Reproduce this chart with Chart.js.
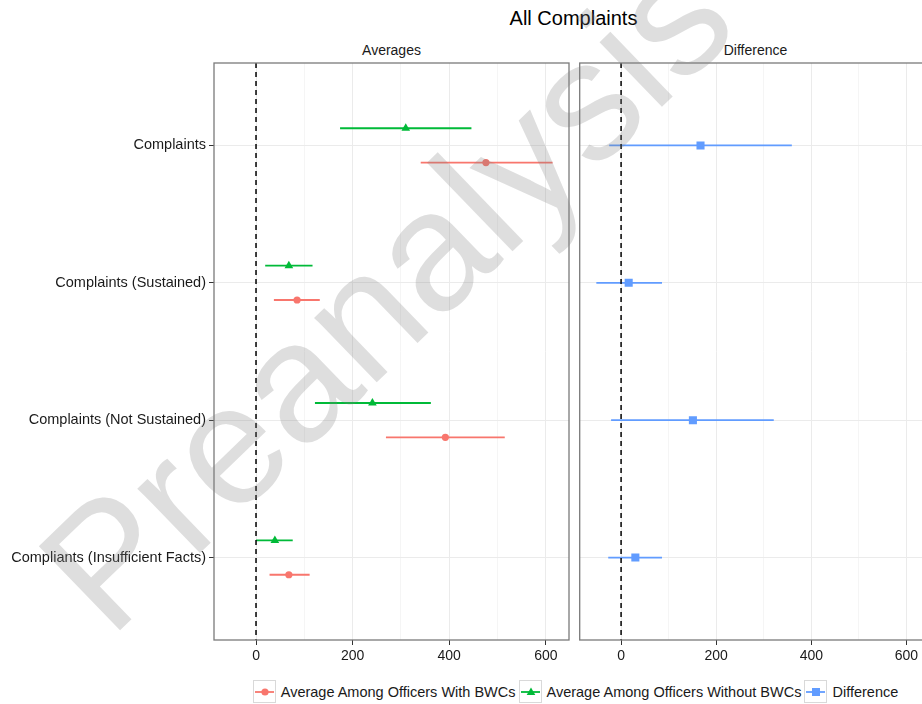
<!DOCTYPE html>
<html>
<head>
<meta charset="utf-8">
<script src="https://cdn.jsdelivr.net/npm/chart.js@4.4.1/dist/chart.umd.min.js"></script>
<style>
  html, body { margin: 0; padding: 0; background: #fff; overflow: hidden; }
  body { width: 922px; height: 704px; position: relative; font-family: "Liberation Sans", Arial, sans-serif; }
  #page { position: absolute; left: 0; top: 0; width: 940px; height: 704px; }
  canvas { position: absolute; top: 0; }
  #left { left: 0; }
  #right { left: 574px; }
  svg.overlay { position: absolute; left: 0; top: 0; pointer-events: none; }
  #legend { position: absolute; top: 680px; left: 0; width: 1154px; display: flex; justify-content: center; align-items: center; font-size: 14.5px; color: #1a1a1a; }
  .item { display: flex; align-items: center; }
  .key { width: 23px; height: 23px; box-sizing: border-box; border: 1px solid #d9d9d9; }
  .item span { margin: 0 3px 0 5px; white-space: nowrap; }
</style>
</head>
<body>
<div id="page">
  <svg class="overlay" width="940" height="704">
    <text x="573.5" y="25" text-anchor="middle" font-family="Liberation Sans, Arial, sans-serif" font-size="20" fill="#000">All Complaints</text>
    <text x="391.5" y="55" text-anchor="middle" font-family="Liberation Sans, Arial, sans-serif" font-size="14" fill="#1a1a1a">Averages</text>
    <text x="755.5" y="55" text-anchor="middle" font-family="Liberation Sans, Arial, sans-serif" font-size="14" fill="#1a1a1a">Difference</text>
  </svg>
  <canvas id="left" width="574" height="672"></canvas>
  <canvas id="right" width="361" height="672"></canvas>
  <div id="legend"></div>
  <svg class="overlay" width="940" height="704">
    <text x="110" y="640" transform="rotate(-44 110 640)" font-family="Liberation Sans, Arial, sans-serif" font-size="170" fill="rgba(128,128,128,0.26)">Preanalysis</text>
  </svg>
</div>
<script>
// outcomes, top to bottom
const categories = ["Complaints", "Complaints (Sustained)", "Complaints (Not Sustained)", "Compliants (Insufficient Facts)"];

// officers with body-worn cameras
const withEst = [476, 85, 392, 68];
const withLo = [341, 37, 269, 28];
const withHi = [614, 132, 515, 111];

// officers without body-worn cameras
const withoutEst = [310, 68, 241, 39];
const withoutLo = [174, 19, 122, 0];
const withoutHi = [446, 117, 362, 76];

// difference between the two groups
const diffEst = [167, 16, 151, 30];
const diffLo = [-25, -52, -21, -27];
const diffHi = [359, 86, 321, 86];

const seriesNames = ["Average Among Officers With BWCs", "Average Among Officers Without BWCs", "Difference"];
const seriesColors = ["#F8766D", "#00BA38", "#619CFF"];
const seriesShapes = ["circle", "triangle", "rect"];

const xMin = -87, xMax = 648;
const yMin = 0.4, yMax = 4.6;
const dodge = 0.125;
const FONT = "Liberation Sans, Arial, sans-serif";

// each interval becomes its own segment: lo -> hi, then a gap
function rangeData(lo, hi, shift) {
  const pts = [];
  lo.forEach((v, i) => {
    pts.push({ x: v, y: i + 1 + shift }, { x: hi[i], y: i + 1 + shift }, { x: null, y: null });
  });
  return pts;
}

function pointData(est, shift) {
  return est.map((v, i) => ({ x: v, y: i + 1 + shift }));
}

function zeroLine() {
  return {
    data: [{ x: 0, y: yMin }, { x: 0, y: yMax }],
    showLine: true, pointRadius: 0, borderColor: "#000", borderWidth: 1.5, borderDash: [5, 4]
  };
}

function estimates(est, shift, idx, radius) {
  return {
    data: pointData(est, shift), showLine: false,
    pointStyle: seriesShapes[idx], pointRadius: radius,
    backgroundColor: seriesColors[idx], borderColor: seriesColors[idx], borderWidth: 0
  };
}

function intervals(lo, hi, shift, idx) {
  return {
    data: rangeData(lo, hi, shift), showLine: true, spanGaps: false, pointRadius: 0,
    borderColor: seriesColors[idx], borderWidth: 1.8
  };
}

// panel outline drawn over the data, like a ggplot panel border
const panelBox = {
  id: "panelBox",
  afterDatasetsDraw(chart) {
    const { ctx, chartArea: a } = chart;
    ctx.save();
    ctx.strokeStyle = "#7a7a7a";
    ctx.lineWidth = 1.3;
    ctx.strokeRect(a.left, a.top, a.right - a.left, a.bottom - a.top);
    ctx.restore();
  }
};

function xScale() {
  return {
    type: "linear", min: xMin, max: xMax,
    ticks: {
      stepSize: 100, includeBounds: false, autoSkip: false, maxRotation: 0, padding: 3,
      color: "#1a1a1a", font: { family: FONT, size: 14 },
      callback: v => (v % 200 === 0 ? v : "")
    },
    grid: {
      color: c => (c.tick && c.tick.value % 200 === 0 ? "#ebebeb" : "#f5f5f5"),
      tickColor: c => (c.tick && c.tick.value % 200 === 0 ? "#333" : "rgba(0,0,0,0)"),
      tickLength: 5, lineWidth: 1
    },
    border: { display: false },
    afterFit: s => { s.height = 32; }
  };
}

function yScale(showLabels) {
  return {
    type: "linear", reverse: true, min: yMin, max: yMax,
    afterBuildTicks: s => { s.ticks = categories.map((c, i) => ({ value: i + 1 })); },
    ticks: {
      display: showLabels, padding: 3, color: "#1a1a1a", font: { family: FONT, size: 14.5 },
      callback: v => categories[v - 1]
    },
    grid: { color: "#ebebeb", tickColor: "#333", tickLength: 5, drawTicks: showLabels },
    border: { display: false },
    afterFit: s => { s.width = showLabels ? 214 : 0; }
  };
}

function baseOptions(showLabels, padding) {
  return {
    responsive: false, animation: false,
    layout: { padding },
    plugins: { legend: { display: false }, tooltip: { enabled: false } },
    scales: { x: xScale(), y: yScale(showLabels) }
  };
}

// left panel: group averages
new Chart(document.getElementById("left"), {
  type: "scatter",
  data: {
    datasets: [
      zeroLine(),
      estimates(withEst, dodge, 0, 3.6),
      estimates(withoutEst, -dodge, 1, 5),
      intervals(withLo, withHi, dodge, 0),
      intervals(withoutLo, withoutHi, -dodge, 1)
    ]
  },
  options: baseOptions(true, { top: 63, right: 5, bottom: 0, left: 0 }),
  plugins: [panelBox]
});

// right panel: difference
new Chart(document.getElementById("right"), {
  type: "scatter",
  data: {
    datasets: [
      zeroLine(),
      estimates(diffEst, 0, 2, 5.7),
      intervals(diffLo, diffHi, 0, 2)
    ]
  },
  options: baseOptions(false, { top: 63, right: 2, bottom: 0, left: 3 }),
  plugins: [panelBox]
});

// legend keys: a line with the series marker, in a bordered box
const legend = document.getElementById("legend");
seriesNames.forEach((name, i) => {
  const col = seriesColors[i];
  let marker;
  if (seriesShapes[i] === "circle") marker = `<circle cx="11" cy="11" r="3.6" fill="${col}"/>`;
  else if (seriesShapes[i] === "triangle") marker = `<polygon points="11,6.5 15.3,14 6.7,14" fill="${col}"/>`;
  else marker = `<rect x="7" y="7" width="8" height="8" fill="${col}"/>`;
  const item = document.createElement("div");
  item.className = "item";
  item.innerHTML = `<div class="key"><svg width="21" height="21"><line x1="1" y1="11" x2="20" y2="11" stroke="${col}" stroke-width="1.8"/>${marker}</svg></div><span>${name}</span>`;
  legend.appendChild(item);
});
</script>
</body>
</html>
